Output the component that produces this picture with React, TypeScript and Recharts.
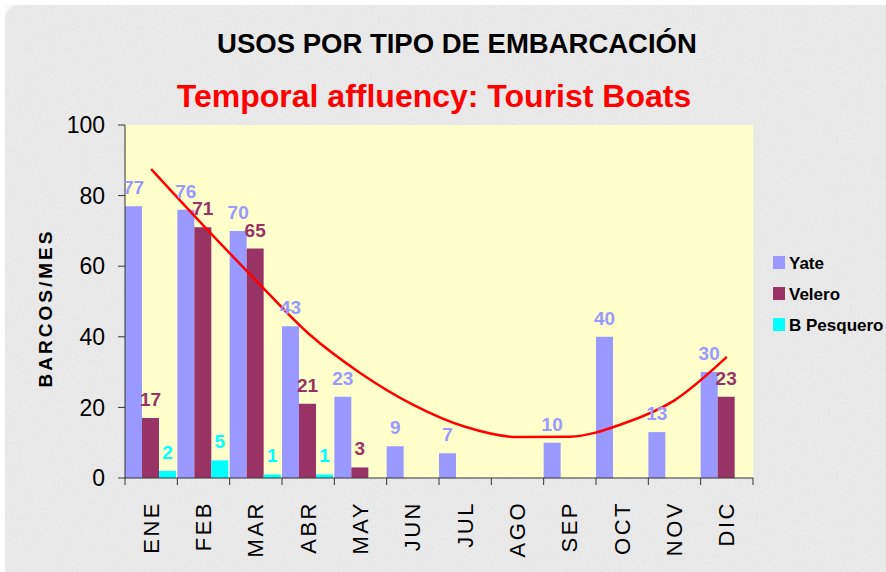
import React from "react";
import {
  ComposedChart,
  Bar,
  Line,
  XAxis,
  YAxis,
  CartesianGrid,
  LabelList,
  Label,
  Customized,
} from "recharts";

const meses = ["ENE", "FEB", "MAR", "ABR", "MAY", "JUN", "JUL", "AGO", "SEP", "OCT", "NOV", "DIC"];
const yate = [77, 76, 70, 43, 23, 9, 7, 0, 10, 40, 13, 30];
const velero = [17, 71, 65, 21, 3, 0, 0, 0, 0, 0, 0, 23];
const pesquero = [2, 5, 1, 1, 0, 0, 0, 0, 0, 0, 0, 0];
// polynomial trend line
const tendencia = [87.5, 71.5, 56, 41, 29.7, 20.8, 14.5, 11.6, 11.7, 15.3, 22, 34.3];
const yTicks = [0, 20, 40, 60, 80, 100];

const series = [
  { key: "yate", name: "Yate", color: "#9999FF" },
  { key: "velero", name: "Velero", color: "#993366" },
  { key: "pesquero", name: "B Pesquero", color: "#00FFFF" },
];

const data = meses.map((mes, i) => ({
  mes,
  yate: yate[i],
  velero: velero[i],
  pesquero: pesquero[i],
  tendencia: tendencia[i],
}));

const FONT = "Arial, 'Liberation Sans', sans-serif";

const makeLabel = (color: string) => (props: any) => {
  const { x, y, width, value } = props;
  if (!value) return null;
  return (
    <text
      x={x + width / 2}
      y={y - 12}
      textAnchor="middle"
      fill={color}
      fontFamily={FONT}
      fontWeight="bold"
      fontSize={19}
    >
      {value}
    </text>
  );
};

const XTick = (props: any) => {
  const { x, y, payload, index } = props;
  const half = payload && payload.offset ? payload.offset : 26.17;
  const top = y - 7;
  return (
    <g>
      <line x1={x - half} x2={x - half} y1={top} y2={top + 7} stroke="#333" />
      {index === meses.length - 1 && (
        <line x1={x + half} x2={x + half} y1={top} y2={top + 7} stroke="#333" />
      )}
      <text
        x={x}
        y={y + 16}
        transform={`rotate(-90, ${x}, ${y + 16})`}
        textAnchor="end"
        dominantBaseline="central"
        fontFamily={FONT}
        fontSize={22}
        letterSpacing={2.5}
        fill="#000"
      >
        {payload.value}
      </text>
    </g>
  );
};

const Extras = () => (
  <g fontFamily={FONT}>
    <text x={457} y={53} textAnchor="middle" fontSize={27.5} fontWeight="bold" fill="#000">
      USOS POR TIPO DE EMBARCACIÓN
    </text>
    <text x={434} y={107} textAnchor="middle" fontSize={32} fontWeight="bold" fill="#FF0000">
      Temporal affluency: Tourist Boats
    </text>
    {series.map((s, i) => (
      <g key={s.key}>
        <rect x={773} y={256 + i * 31} width={12} height={13} fill={s.color} />
        <text x={789} y={269 + i * 31} fontSize={17} fontWeight="bold" fill="#000">
          {s.name}
        </text>
      </g>
    ))}
  </g>
);

export default function App() {
  return (
    <div style={{ position: "absolute", left: 0, top: 0, width: 886, height: 572, background: "#fff", overflow: "hidden" }}>
      <svg style={{ position: "absolute", left: 5, top: 5 }} width={900} height={600}>
        <defs>
          <filter id="grain">
            <feTurbulence type="fractalNoise" baseFrequency="0.9" numOctaves={2} seed={3} />
            <feColorMatrix type="saturate" values="0" />
          </filter>
        </defs>
        <rect x={0} y={0} width={900} height={600} rx={14} fill="#EDEDED" />
        <rect x={0} y={0} width={900} height={600} rx={14} filter="url(#grain)" opacity={0.18} />
      </svg>
      <div style={{ position: "absolute", left: 0, top: 0 }}>
        <ComposedChart
          width={886}
          height={572}
          data={data}
          margin={{ top: 125, right: 133, bottom: 0, left: 0 }}
          barCategoryGap={0}
          barGap={0}
        >
          <CartesianGrid fill="#FFFFCC" stroke="none" />
          <XAxis
            dataKey="mes"
            height={94}
            interval={0}
            tickLine={false}
            tickSize={7}
            tickMargin={0}
            axisLine={{ stroke: "#333" }}
            tick={<XTick />}
          />
          <YAxis
            domain={[0, 100]}
            ticks={yTicks}
            width={125}
            tickSize={7}
            tickMargin={13}
            axisLine={{ stroke: "#333" }}
            tickLine={{ stroke: "#333" }}
            tick={{ fontSize: 23, fill: "#000", fontFamily: FONT }}
          >
            <Label
              content={() => (
                <text
                  x={45}
                  y={308}
                  transform="rotate(-90, 45, 308)"
                  textAnchor="middle"
                  dominantBaseline="central"
                  fontFamily={FONT}
                  fontWeight="bold"
                  fontSize={19}
                  letterSpacing={3}
                  fill="#000"
                >
                  BARCOS/MES
                </text>
              )}
            />
          </YAxis>
          {series.map((s) => (
            <Bar key={s.key} dataKey={s.key} name={s.name} fill={s.color} isAnimationActive={false}>
              <LabelList dataKey={s.key} content={makeLabel(s.color)} />
            </Bar>
          ))}
          <Line
            type="monotone"
            dataKey="tendencia"
            stroke="#FF0000"
            strokeWidth={2.5}
            dot={false}
            isAnimationActive={false}
            legendType="none"
          />
          <Customized component={Extras} />
        </ComposedChart>
      </div>
    </div>
  );
}
